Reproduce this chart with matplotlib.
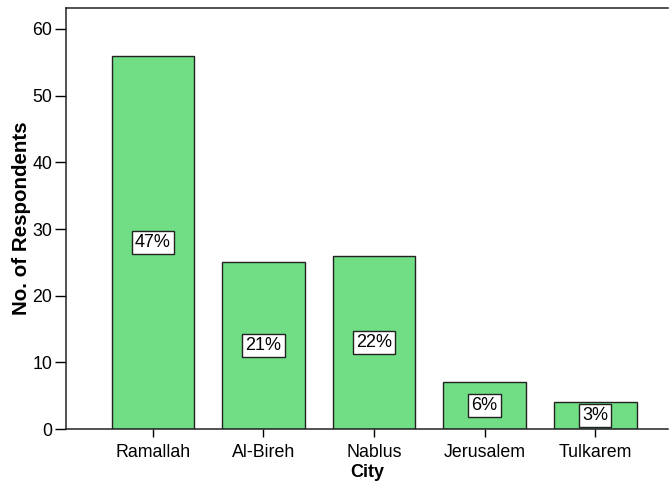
import matplotlib
matplotlib.use("Agg")
import matplotlib.pyplot as plt
import numpy as np

## Data
cities = ["Ramallah", "Al-Bireh", "Nablus", "Jerusalem", "Tulkarem"]
counts = [56, 25, 26, 7, 4]
pct_labels = ["47%", "21%", "22%", "6%", "3%"]

plt.rcParams["font.family"] = ["Liberation Sans", "DejaVu Sans"]

fig = plt.figure(figsize=(6.69, 4.88), dpi=100)
ax = fig.add_axes([66 / 669, 59 / 488, 602 / 669, 421 / 488])

x = np.arange(len(cities))
ax.bar(x, counts, width=0.75, color="#71dd84", edgecolor="#222222", linewidth=1.0, zorder=2)

## Percent labels in the middle of each bar
for xi, c, lab in zip(x, counts, pct_labels):
    ax.text(xi, c / 2, lab, ha="center", va="center", fontsize=13, zorder=3,
            bbox=dict(boxstyle="square,pad=0.18", facecolor="white", edgecolor="#222222", linewidth=1.0))

ax.set_xlim(-0.787, 4.66)
ax.set_ylim(0, 63.15)
ax.set_xticks(x)
ax.set_xticklabels(cities, fontsize=12.8)
ax.set_yticks([0, 10, 20, 30, 40, 50, 60])
ax.tick_params(axis="y", labelsize=12.8, length=8, width=1, pad=2)
ax.tick_params(axis="x", length=6, width=1, pad=5)

ax.spines["right"].set_visible(False)
for s in ["left", "top", "bottom"]:
    ax.spines[s].set_linewidth(1.1)
    ax.spines[s].set_color("#222222")

ax.set_xlabel("City", fontsize=13, fontweight="bold", labelpad=2)
ax.set_ylabel("No. of Respondents", fontsize=14.8, fontweight="bold", labelpad=1)

fig.savefig("out.png", dpi=100)
